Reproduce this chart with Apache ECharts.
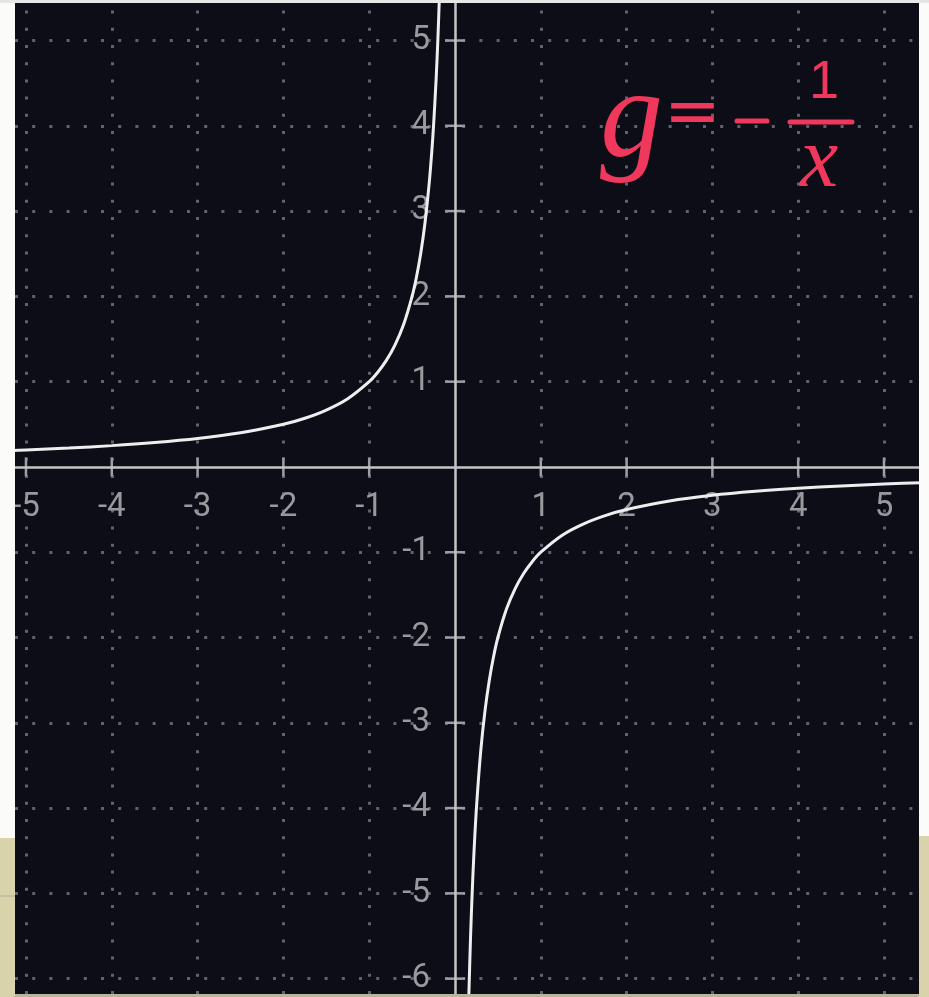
<!DOCTYPE html>
<html>
<head>
<meta charset="utf-8">
<title>g = -1/x</title>
<script src="https://cdn.jsdelivr.net/npm/echarts@6/dist/echarts.min.js"></script>
<style>
  html, body { margin: 0; padding: 0; background: #ffffff; }
  #chart { width: 929px; height: 997px; }
</style>
</head>
<body>
<div id="chart"></div>
<script>
// Left branch of g = -1/x (x < 0)
const leftX = [-5.2, -5, -4.5, -4, -3.5, -3, -2.5, -2, -1.75, -1.5, -1.25, -1, -0.9, -0.8, -0.7, -0.6, -0.5, -0.45, -0.4, -0.35, -0.3, -0.27, -0.25, -0.22, -0.2, -0.18];
const leftY = [0.192, 0.2, 0.222, 0.25, 0.286, 0.333, 0.4, 0.5, 0.571, 0.667, 0.8, 1, 1.111, 1.25, 1.429, 1.667, 2, 2.222, 2.5, 2.857, 3.333, 3.704, 4, 4.545, 5, 5.556];

// Right branch of g = -1/x (x > 0)
const rightX = [0.16, 0.18, 0.2, 0.22, 0.25, 0.3, 0.35, 0.4, 0.45, 0.5, 0.6, 0.7, 0.8, 0.9, 1, 1.25, 1.5, 1.75, 2, 2.5, 3, 3.5, 4, 4.5, 5, 5.5];
const rightY = [-6.25, -5.556, -5, -4.545, -4, -3.333, -2.857, -2.5, -2.222, -2, -1.667, -1.429, -1.25, -1.111, -1, -0.8, -0.667, -0.571, -0.5, -0.4, -0.333, -0.286, -0.25, -0.222, -0.2, -0.182];

// Axis ticks and their labels
const xTicks = [-5, -4, -3, -2, -1, 1, 2, 3, 4, 5];
const yTicks = [-6, -5, -4, -3, -2, -1, 1, 2, 3, 4, 5];

// Visible window of the plane
const xMin = -5.128, xMax = 5.408;
const yMin = -6.18, yMax = 5.44;

const pair = (xs, ys) => xs.map((x, i) => [x, ys[i]]);

const axisColor = '#c4c4c8';
const labelColor = '#bdbdc1';
const curveColor = '#eeeef0';
const dotColor = 'rgba(145,147,162,0.64)';
const inkColor = '#f0375c';

const chart = echarts.init(document.getElementById('chart'), null, { renderer: 'canvas' });

const dotted = { color: dotColor, width: 3, type: [3, 14.2], cap: 'butt' };
const tickFont = { color: labelColor, fontFamily: 'Roboto', fontSize: 33 };

const option = {
  backgroundColor: '#ffffff',
  animation: false,
  grid: {
    left: 15, right: 10, top: 3, bottom: 3,
    containLabel: false, outerBoundsMode: 'none',
    show: true, backgroundColor: '#0c0d17', borderWidth: 0
  },
  xAxis: {
    type: 'value', min: xMin, max: xMax,
    axisLine: { show: true, onZero: true, lineStyle: { color: axisColor, width: 2.5 } },
    axisTick: { show: false }, axisLabel: { show: false }, splitLine: { show: false }
  },
  yAxis: {
    type: 'value', min: yMin, max: yMax,
    axisLine: { show: true, onZero: true, lineStyle: { color: axisColor, width: 2.5 } },
    axisTick: { show: false }, axisLabel: { show: false }, splitLine: { show: false }
  },
  series: [
    {
      // dotted unit grid
      type: 'line', data: [], silent: true,
      markLine: {
        silent: true, symbol: 'none', label: { show: false },
        lineStyle: dotted,
        data: xTicks.map(v => ({ xAxis: v })).concat(yTicks.map(v => ({ yAxis: v })))
      },
      z: 1
    },
    {
      // tick marks crossing the x axis, with their numbers below
      type: 'scatter', silent: true, symbol: 'rect', symbolSize: [2.5, 19],
      data: xTicks.map(v => [v, 0]),
      itemStyle: { color: axisColor },
      label: {
        show: true, position: 'inside', offset: [0, 41],
        formatter: p => String(p.value[0]), ...tickFont
      },
      z: 3
    },
    {
      // tick marks crossing the y axis, with their numbers to the left
      type: 'scatter', silent: true, symbol: 'rect', symbolSize: [20, 2.5],
      data: yTicks.map(v => [0, v]),
      itemStyle: { color: axisColor },
      label: {
        show: true, position: 'inside', align: 'right', offset: [-25, 0],
        formatter: p => String(p.value[1]), ...tickFont
      },
      z: 3
    },
    {
      type: 'line', data: pair(leftX, leftY), showSymbol: false, smooth: 0.3,
      lineStyle: { color: curveColor, width: 3 }, clip: true, z: 5
    },
    {
      type: 'line', data: pair(rightX, rightY), showSymbol: false, smooth: 0.3,
      lineStyle: { color: curveColor, width: 3 }, clip: true, z: 5
    }
  ],
  graphic: [
    // frame strips around the dark panel
    { type: 'rect', z: 100, shape: { x: 0, y: 0, width: 15, height: 838 }, style: { fill: '#fbfbfa' } },
    { type: 'rect', z: 100, shape: { x: 0, y: 838, width: 15, height: 159 }, style: { fill: '#d8d3aa' } },
    { type: 'rect', z: 100, shape: { x: 0, y: 895, width: 15, height: 2 }, style: { fill: '#c4c0a0' } },
    { type: 'rect', z: 100, shape: { x: 919, y: 0, width: 10, height: 836 }, style: { fill: '#fbfbfa' } },
    { type: 'rect', z: 100, shape: { x: 919, y: 836, width: 10, height: 161 }, style: { fill: '#d8d3aa' } },
    { type: 'rect', z: 100, shape: { x: 0, y: 0, width: 929, height: 3 }, style: { fill: '#e6e6e6' } },
    { type: 'rect', z: 100, shape: { x: 15, y: 994, width: 904, height: 3 }, style: { fill: '#b9b59a' } },

    // handwritten formula g = -1/x
    { type: 'text', z: 50, x: 600, y: 60, style: { text: 'g', font: 'italic 126px "Liberation Serif"', fill: inkColor } },
    { type: 'text', z: 50, x: 664, y: 82, style: { text: '=', font: '68px "DejaVu Sans"', fill: inkColor } },
    { type: 'line', z: 50, shape: { x1: 737, y1: 121, x2: 767, y2: 121 }, style: { stroke: inkColor, lineWidth: 5, lineCap: 'round' } },
    { type: 'line', z: 50, shape: { x1: 790, y1: 122, x2: 852, y2: 122 }, style: { stroke: inkColor, lineWidth: 5, lineCap: 'round' } },
    { type: 'text', z: 50, x: 809, y: 56, style: { text: '1', font: '54px "Liberation Sans"', fill: inkColor } },
    { type: 'text', z: 50, x: 800, y: 120, style: { text: 'x', font: 'italic 86px "Liberation Serif"', fill: inkColor } }
  ]
};

chart.setOption(option);
</script>
</body>
</html>
